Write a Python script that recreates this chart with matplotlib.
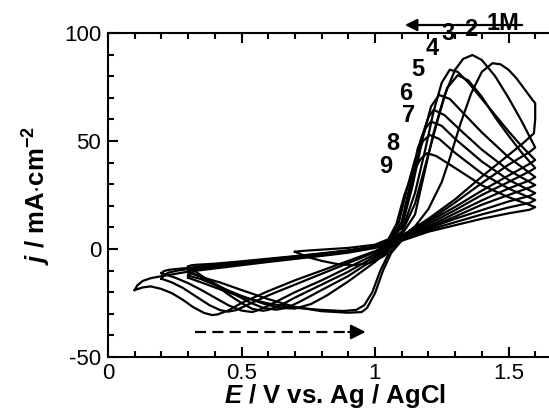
import matplotlib
matplotlib.use("Agg")
import matplotlib.pyplot as plt
from matplotlib.ticker import MultipleLocator, FixedLocator, FixedFormatter

plt.rcParams['font.family'] = ['Liberation Sans', 'DejaVu Sans']
plt.rcParams['mathtext.fontset'] = 'custom'
plt.rcParams['mathtext.rm'] = 'Liberation Sans'
plt.rcParams['mathtext.it'] = 'Liberation Sans:italic'
plt.rcParams['mathtext.bf'] = 'Liberation Sans:bold'
plt.rcParams['mathtext.bfit'] = 'Liberation Sans:italic:bold'

# ---- data (E / V, j / mA cm^-2), each list = one closed CV loop ----
E1 = [0.10,0.11,0.13,0.16,0.20,0.30,0.40,0.50,0.60,0.70,0.80,0.90,1.00,1.05,1.10,1.15,1.20,1.25,1.28,1.32,1.36,1.40,1.44,1.47,1.50,1.53,1.56,1.59,1.60,
      1.60,1.595,1.55,1.50,1.40,1.30,1.20,1.10,1.05,1.00,0.90,0.80,0.70,0.60,0.50,0.45,0.41,0.39,0.36,0.32,0.28,0.24,0.20,0.16,0.13,0.10]
j1 = [-19,-16.8,-14.8,-13.5,-12.6,-10.5,-9,-7.5,-6,-4.6,-3.2,-1.7,0.5,2.2,5.5,10.5,18.5,31,42,58,72,82,86,85.5,83,79,74,69,67.5,
      60,53.5,48.5,43.5,33.5,23,14,6,2,-1,-5.5,-10,-14.5,-19.5,-25,-28.5,-30.3,-30.6,-29.6,-27,-23.5,-20.5,-18.5,-17.3,-17.8,-19]

E2 = [0.20,0.21,0.23,0.26,0.30,0.40,0.50,0.60,0.70,0.80,0.90,1.00,1.05,1.10,1.15,1.19,1.22,1.26,1.30,1.33,1.365,1.40,1.45,1.50,1.55,1.60,
      1.58,1.50,1.40,1.30,1.20,1.10,1.05,1.00,0.90,0.80,0.70,0.60,0.52,0.48,0.45,0.42,0.38,0.33,0.28,0.24,0.21,0.20]
j2 = [-13.8,-12,-10.8,-10,-9.3,-7.8,-6.4,-5.1,-3.8,-2.5,-1,1,2.8,6.5,16,38,54,71,83,88,89.8,87.5,80,70,59,47,
      45,39,30.5,21.5,13,5.5,1.5,-1.5,-6.5,-11.5,-16.5,-21.5,-26,-28.3,-29,-28.3,-26,-22,-18,-15.5,-14.2,-13.8]

E3 = [0.20,0.21,0.23,0.26,0.30,0.40,0.50,0.60,0.70,0.80,0.90,1.00,1.05,1.10,1.15,1.19,1.22,1.25,1.28,1.31,1.35,1.40,1.45,1.50,1.55,1.60,
      1.58,1.50,1.40,1.30,1.20,1.10,1.05,1.00,0.90,0.80,0.70,0.62,0.57,0.54,0.50,0.45,0.40,0.35,0.30,0.25,0.22,0.20]
j3 = [-11.2,-10.2,-9.6,-9.2,-8.8,-7.4,-6,-4.8,-3.5,-2.2,-0.8,1.2,3,8,26,47,64,77,83,82,77,69.5,62,54.5,47.5,41.2,
      39.5,34,27,19.5,12.5,5.5,1,-2.5,-8.5,-14.5,-20,-25,-28,-29.2,-28.5,-26,-22.5,-19,-15.8,-13.2,-12,-11.2]

E4 = [0.30,0.31,0.33,0.36,0.40,0.50,0.60,0.70,0.80,0.90,1.00,1.05,1.10,1.15,1.20,1.24,1.27,1.31,1.35,1.40,1.45,1.50,1.55,1.60,
      1.58,1.50,1.40,1.30,1.20,1.10,1.05,1.00,0.90,0.80,0.70,0.64,0.60,0.58,0.54,0.50,0.45,0.40,0.35,0.32,0.30]
j4 = [-8.2,-7.6,-7.3,-7.1,-6.8,-5.7,-4.5,-3.3,-2,-0.6,1.3,3,7.5,21,44,62,74.5,80.5,78,70.5,61,52.5,44.5,37.5,
      36,31,25,18,11.5,5,0.5,-3.5,-10.5,-16.5,-22.5,-26.5,-28.2,-28.6,-27.7,-25,-21,-16.5,-12.3,-9.8,-8.2]

E5 = [0.30,0.31,0.33,0.36,0.40,0.50,0.60,0.70,0.80,0.90,1.00,1.05,1.10,1.14,1.18,1.21,1.24,1.28,1.33,1.40,1.50,1.60,
      1.58,1.50,1.40,1.30,1.20,1.10,1.05,1.00,0.90,0.80,0.72,0.67,0.63,0.58,0.53,0.47,0.40,0.35,0.30]
j5 = [-10.3,-9,-8.3,-7.9,-7.5,-6.3,-5,-3.8,-2.4,-1,1,3,10,29,52,66,71.3,69.5,63,54,42.5,33.3,
      31.8,28,22.5,16.5,10.5,4.8,0,-4.5,-12.5,-19,-24.3,-27.2,-28.1,-27.2,-24.7,-20.7,-16,-13,-10.3]

E6 = [0.30,0.31,0.33,0.36,0.40,0.50,0.60,0.70,0.80,0.90,1.00,1.05,1.10,1.14,1.17,1.20,1.22,1.26,1.32,1.40,1.50,1.60,
      1.58,1.50,1.40,1.30,1.20,1.10,1.05,1.00,0.90,0.82,0.76,0.70,0.64,0.58,0.50,0.42,0.35,0.30]
j6 = [-12.3,-10.5,-9.2,-8.5,-8,-6.6,-5.3,-4,-2.6,-1.2,0.8,3,11,31,50,61,64.4,62,55,46,36.5,29.6,
      28.5,25,20.5,15,10,4.6,-0.5,-6,-15,-21.5,-25.5,-27.6,-27.2,-25.2,-21.7,-17.7,-14,-12.3]

E7 = [0.30,0.31,0.33,0.36,0.40,0.50,0.60,0.70,0.80,0.90,1.00,1.05,1.10,1.13,1.16,1.19,1.21,1.25,1.30,1.40,1.50,1.60,
      1.58,1.50,1.40,1.30,1.20,1.10,1.05,1.02,0.99,0.96,0.93,0.88,0.80,0.70,0.60,0.50,0.42,0.35,0.30]
j7 = [-13.3,-11.3,-9.8,-9,-8.4,-7,-5.6,-4.2,-2.8,-1.4,0.6,3,12.5,29,46.5,56,59,57,51,40.5,32,25.9,
      24.6,22,18,14,9.5,4.3,-2.5,-10,-20,-26,-28.2,-28.7,-28.2,-27.2,-25.2,-22.2,-18.7,-15.5,-13.3]

E8 = [0.30,0.31,0.33,0.36,0.40,0.50,0.60,0.70,0.80,0.90,1.00,1.05,1.09,1.12,1.15,1.18,1.205,1.24,1.30,1.40,1.50,1.60,
      1.58,1.50,1.40,1.30,1.20,1.10,1.06,1.03,1.00,0.97,0.95,0.90,0.80,0.70,0.60,0.50,0.42,0.35,0.30]
j8 = [-10.8,-9.5,-8.6,-8.1,-7.7,-6.4,-5.1,-3.8,-2.5,-1.1,0.9,4,12.5,28,41.5,50,52.8,51,44.5,35,28,22.7,
      21.4,19.2,16,12.4,8.8,4.1,-2,-10,-20.5,-27.3,-29.2,-29.5,-28.8,-26.8,-23.2,-19,-15.5,-13,-10.8]

E9 = [0.70,0.72,0.75,0.80,0.90,1.00,1.05,1.08,1.11,1.14,1.17,1.195,1.23,1.30,1.40,1.50,1.60,
      1.58,1.50,1.40,1.30,1.20,1.10,1.07,1.03,0.98,0.92,0.86,0.80,0.75,0.72,0.70]
j9 = [-1.3,-1,-0.7,-0.3,0.5,2,4.5,11.5,25,35,41.5,44.4,43,37.5,29.5,24,19.4,
      18.2,16.5,14,11,8,3.8,0,-3.5,-6.5,-7.5,-7,-5.5,-3.8,-2.3,-1.3]

curves_E = [E1, E2, E3, E4, E5, E6, E7, E8, E9]
curves_j = [j1, j2, j3, j4, j5, j6, j7, j8, j9]

curve_labels = ['1M', '2', '3', '4', '5', '6', '7', '8', '9']
label_E = [1.479, 1.36, 1.273, 1.213, 1.161, 1.116, 1.127, 1.067, 1.041]
label_j = [104.2, 101.4, 100.0, 93.0, 83.3, 72.2, 61.6, 49.0, 38.0]

xtick_vals = [0, 0.5, 1, 1.5]
xtick_text = ['0', '0.5', '1', '1.5']
ytick_vals = [-50, 0, 50, 100]
ytick_text = ['-50', '0', '50', '100']

# ---- figure ----
fig = plt.figure(figsize=(5.49, 4.19), dpi=100)
ax = fig.add_axes([108/549, 1-357/419, (1.7*267)/549, (357-33)/419])

for Ev, jv in zip(curves_E, curves_j):
    ax.plot(Ev, jv, color='black', lw=1.6, solid_joinstyle='round')

ax.set_xlim(0, 1.7)
ax.set_ylim(-50, 100)

ax.xaxis.set_major_locator(FixedLocator(xtick_vals))
ax.xaxis.set_major_formatter(FixedFormatter(xtick_text))
ax.yaxis.set_major_locator(FixedLocator(ytick_vals))
ax.yaxis.set_major_formatter(FixedFormatter(ytick_text))
ax.xaxis.set_minor_locator(MultipleLocator(0.1))
ax.yaxis.set_minor_locator(MultipleLocator(10))
ax.tick_params(which='both', direction='in', top=True, right=True, width=1.5,
               labelsize=16, colors='black')
ax.tick_params(which='major', length=7)
ax.tick_params(which='minor', length=4.5)
ax.tick_params(axis='x', pad=4)
ax.tick_params(axis='y', pad=5)
for sp in ax.spines.values():
    sp.set_linewidth(1.5)

ax.set_xlabel(r'$\mathbfit{E}$ / V vs. Ag / AgCl', fontsize=18.5, fontweight='bold', labelpad=-1)
ax.set_ylabel(r'$\mathbfit{j}$ / mA$\cdot$cm$^{\mathbf{-2}}$', fontsize=18.5, fontweight='bold', labelpad=8)

for t, xe, yj in zip(curve_labels, label_E, label_j):
    ax.text(xe, yj, t, fontsize=17, fontweight='bold', ha='center', va='center', clip_on=False)

# top arrow (direction of labels)
ax.annotate('', xy=(1.112, 103.7), xytext=(1.551, 103.7), annotation_clip=False,
            arrowprops=dict(arrowstyle='-|>', lw=1.6, color='black', mutation_scale=18,
                            shrinkA=0, shrinkB=0))

# bottom dashed arrow (scan direction)
ax.plot([0.325, 0.91], [-38.4, -38.4], color='black', lw=1.6, linestyle=(0, (5, 2.8)))
ax.annotate('', xy=(0.965, -38.4), xytext=(0.90, -38.4),
            arrowprops=dict(arrowstyle='-|>', lw=1.6, color='black', mutation_scale=22,
                            shrinkA=0, shrinkB=0))

fig.savefig('out.png', dpi=100)
